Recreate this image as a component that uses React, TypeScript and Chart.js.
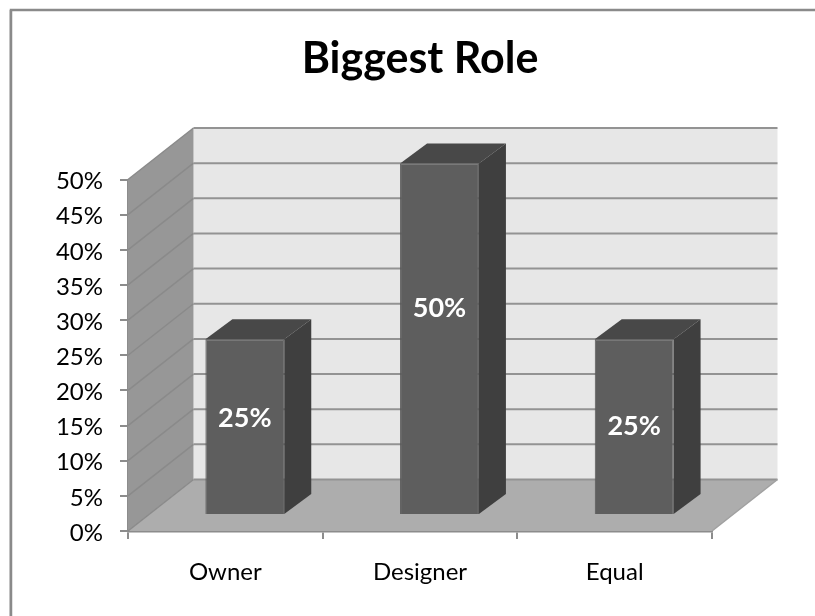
import React, { useEffect, useRef } from "react";
import { Chart, registerables } from "chart.js";

Chart.register(...registerables);

const categories = ["Owner", "Designer", "Equal"];
const shares = [25, 50, 25];
const valueLabels = ["25%", "50%", "25%"];
// Height, in axis units, at which each bar's label sits on its front face
const labelLevels = [13.8, 29.4, 12.6];

const FONT = "Lato, Carlito, sans-serif";
const WALL_DX = 65.5;
const WALL_DY = -51.5;
const BAR_DX = 19.5;
const BAR_DY = -16;
const BAR_DEPTH_DX = 27;
const BAR_DEPTH_DY = -20;
const AXIS_GREY = "#8c8c8c";

function poly(ctx: CanvasRenderingContext2D, pts: number[][], fill: string) {
  ctx.beginPath();
  pts.forEach(([x, y], i) => (i ? ctx.lineTo(x, y) : ctx.moveTo(x, y)));
  ctx.closePath();
  ctx.fillStyle = fill;
  ctx.fill();
}

// Side wall, back wall, floor and their grid lines, behind the bars
const roomPlugin = {
  id: "room",
  beforeDraw(chart: any) {
    const { ctx, width, height } = chart;
    // Only the top and left edges of the outer frame fall inside the canvas
    ctx.save();
    ctx.strokeStyle = "#d4d4d4";
    ctx.lineWidth = 1;
    ctx.beginPath();
    ctx.moveTo(9.5, 10);
    ctx.lineTo(9.5, height);
    ctx.stroke();
    ctx.strokeStyle = "#8a8a8a";
    ctx.lineWidth = 2.5;
    ctx.beginPath();
    ctx.moveTo(width, 10);
    ctx.lineTo(11, 10);
    ctx.lineTo(11, height);
    ctx.stroke();
    ctx.restore();
  },
  beforeDatasetsDraw(chart: any) {
    const { ctx, scales } = chart;
    const { x, y } = scales;
    const l = x.left;
    const r = x.right;
    const b = y.getPixelForValue(0);
    const t = y.getPixelForValue(50);
    ctx.save();
    poly(ctx, [[l + WALL_DX, t + WALL_DY], [r + WALL_DX, t + WALL_DY], [r + WALL_DX, b + WALL_DY], [l + WALL_DX, b + WALL_DY]], "#e7e7e7");
    poly(ctx, [[l, t], [l + WALL_DX, t + WALL_DY], [l + WALL_DX, b + WALL_DY], [l, b]], "#979797");
    poly(ctx, [[l, b], [r, b], [r + WALL_DX, b + WALL_DY], [l + WALL_DX, b + WALL_DY]], "#adadad");
    y.ticks.forEach((tick: any) => {
      const py = y.getPixelForValue(tick.value);
      ctx.strokeStyle = "#8a8a8a";
      ctx.lineWidth = 1.5;
      ctx.beginPath();
      ctx.moveTo(l, py);
      ctx.lineTo(l + WALL_DX, py + WALL_DY);
      ctx.stroke();
      ctx.strokeStyle = "#939393";
      ctx.lineWidth = 2;
      ctx.beginPath();
      ctx.moveTo(l + WALL_DX, py + WALL_DY);
      ctx.lineTo(r + WALL_DX, py + WALL_DY);
      ctx.stroke();
    });
    ctx.strokeStyle = "#a0a0a0";
    ctx.lineWidth = 1.5;
    ctx.beginPath();
    ctx.moveTo(r, b);
    ctx.lineTo(r + WALL_DX, b + WALL_DY);
    ctx.stroke();
    ctx.restore();
  },
  // The front faces come from the bar elements, moved into the depth of the room
  beforeDatasetDraw(chart: any) {
    chart.ctx.save();
    chart.ctx.translate(BAR_DX, BAR_DY);
  },
  afterDatasetDraw(chart: any) {
    chart.ctx.restore();
  },
  afterDatasetsDraw(chart: any) {
    const { ctx, scales } = chart;
    const meta = chart.getDatasetMeta(0);
    ctx.save();
    meta.data.forEach((bar: any, i: number) => {
      const half = bar.width / 2;
      const x0 = bar.x - half + BAR_DX;
      const x1 = bar.x + half + BAR_DX;
      const top = bar.y + BAR_DY;
      const bottom = bar.base + BAR_DY;
      poly(ctx, [[x0, top], [x1, top], [x1 + BAR_DEPTH_DX, top + BAR_DEPTH_DY], [x0 + BAR_DEPTH_DX, top + BAR_DEPTH_DY]], "#484848");
      poly(ctx, [[x1, top], [x1 + BAR_DEPTH_DX, top + BAR_DEPTH_DY], [x1 + BAR_DEPTH_DX, bottom + BAR_DEPTH_DY], [x1, bottom]], "#3f3f3f");
      ctx.fillStyle = "#ffffff";
      ctx.font = `bold 27px ${FONT}`;
      ctx.textAlign = "center";
      ctx.textBaseline = "middle";
      ctx.fillText(valueLabels[i], bar.x + BAR_DX, scales.y.getPixelForValue(labelLevels[i]) + BAR_DY);
    });
    ctx.restore();
  },
};

export default function App() {
  const ref = useRef<HTMLCanvasElement>(null);
  useEffect(() => {
    const chart = new Chart(ref.current!, {
      type: "bar",
      data: {
        labels: categories,
        datasets: [
          {
            label: "Biggest Role",
            data: shares,
            backgroundColor: "#5e5e5e",
            borderColor: "#565656",
            borderWidth: 1,
            barPercentage: 0.405,
            categoryPercentage: 1,
          },
        ],
      },
      options: {
        responsive: false,
        animation: false,
        layout: { autoPadding: false, padding: { left: 0, right: 103, top: 0, bottom: 0 } },
        plugins: {
          legend: { display: false },
          tooltip: { enabled: false },
          title: {
            display: true,
            text: "Biggest Role",
            color: "#000000",
            fullSize: false,
            font: { family: FONT, size: 43, weight: "bold", lineHeight: 1.2 },
            padding: { top: 33, bottom: 94.9 },
          },
        },
        scales: {
          x: {
            afterFit: (s: any) => { s.height = 85; },
            grid: { display: true, drawOnChartArea: false, color: AXIS_GREY, lineWidth: 2, tickLength: 8, offset: true },
            border: { display: true, color: AXIS_GREY, width: 2.5 },
            ticks: { color: "#000", font: { family: FONT, size: 24 }, padding: 19, maxRotation: 0 },
          },
          y: {
            min: 0,
            max: 50,
            afterFit: (s: any) => { s.width = 128; },
            grid: { drawOnChartArea: false, color: AXIS_GREY, lineWidth: 2, tickLength: 8 },
            border: { display: true, color: AXIS_GREY, width: 2 },
            ticks: { stepSize: 5, color: "#000", font: { family: FONT, size: 24 }, padding: 17, labelOffset: 2, callback: (v: any) => `${v}%` },
          },
        },
      },
      plugins: [roomPlugin],
    } as any);
    return () => chart.destroy();
  }, []);
  return (
    <div style={{ position: "absolute", left: 0, top: 0, width: 815, height: 616 }}>
      <canvas ref={ref} width={815} height={616} style={{ display: "block" }} />
    </div>
  );
}
